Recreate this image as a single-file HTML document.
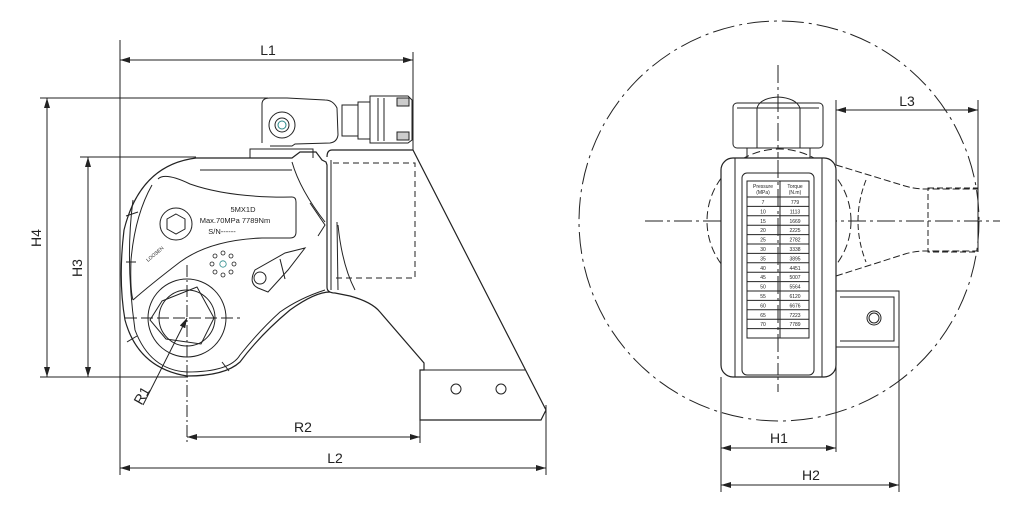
<!DOCTYPE html>
<html><head><meta charset="utf-8"><style>
html,body{margin:0;padding:0;background:#fff;width:1024px;height:512px;overflow:hidden}
svg{display:block}
text{font-family:"Liberation Sans",sans-serif;fill:#222}
</style></head><body>
<svg width="1024" height="512" viewBox="0 0 1024 512" xmlns="http://www.w3.org/2000/svg">
<defs>
<marker id="a" viewBox="0 0 10 6" refX="10" refY="3" markerWidth="10" markerHeight="6" orient="auto-start-reverse" markerUnits="userSpaceOnUse"><path d="M0,0 L10,3 L0,6 z" fill="#222"/></marker>
</defs>
<g stroke="#222" stroke-width="1" fill="none">
<!-- LEFT extension lines -->
<line x1="120" y1="40" x2="120" y2="475"/>
<line x1="413" y1="52" x2="413" y2="150"/>
<line x1="546" y1="405" x2="546" y2="475"/>
<line x1="420" y1="420" x2="420" y2="443"/>
<line x1="40" y1="98" x2="268" y2="98"/>
<line x1="80" y1="157" x2="196" y2="157"/>
<line x1="40" y1="377" x2="188" y2="377"/>
<!-- dims -->
<line x1="120" y1="60" x2="413" y2="60" marker-start="url(#a)" marker-end="url(#a)"/>
<line x1="120" y1="468" x2="546" y2="468" marker-start="url(#a)" marker-end="url(#a)"/>
<line x1="187" y1="437" x2="420" y2="437" marker-start="url(#a)" marker-end="url(#a)"/>
<line x1="47" y1="98" x2="47" y2="377" marker-start="url(#a)" marker-end="url(#a)"/>
<line x1="88" y1="157" x2="88" y2="377" marker-start="url(#a)" marker-end="url(#a)"/>
<!-- R1 leader -->
<line x1="143" y1="405" x2="187" y2="318" marker-end="url(#a)"/>
<!-- centerlines -->
<line x1="187" y1="265" x2="187" y2="445" stroke-dasharray="12,3,2,3"/>
<line x1="125" y1="318" x2="240" y2="318" stroke-dasharray="12,4"/>

<!-- main body -->
<path d="M196,158 L292,158 L300,152 L316,152 L322,160 L326,162 L327,165 L327,287 Q327,293 335,293 L350,296 Q372,302 380,312 L424,363 L424,370 L420,370 L420,420 L541,420 L546,410 L413,150 L332,150 Q327,150 327,157" stroke-width="1.2"/>
<path d="M196,158 Q140,165 124,230 Q118,280 125,320 Q138,368 187,376 Q225,376 240,362 Q260,335 290,310 Q315,292 330,292" stroke-width="1.2"/>
<path d="M292,162 Q300,190 325,222" />
<path d="M200,170 L292,170" />
<path d="M420,370 L525,370"/>
<!-- inner arc band -->
<path d="M158,179 Q165,172 190,184 Q230,198 292,197 Q296,197 296,202 L296,232 Q296,238 290,238 L262,238 Q210,240 180,262 Q150,285 133,300" />
<path d="M152,185 Q135,215 131,260 Q130,290 133,300"/>
<path d="M310,203 L325,225 L318,236" />
<path d="M133,200 Q125,260 135,330 Q150,370 187,372 Q230,372 240,355 Q260,330 280,312 Q300,298 325,290"/>
<line x1="126" y1="216" x2="138" y2="212"/>
<line x1="126" y1="262" x2="136" y2="262"/>
<line x1="127" y1="342" x2="137" y2="336"/>
<line x1="222" y1="362" x2="229" y2="371"/>
<!-- hex bolt -->
<circle cx="176" cy="224" r="16"/>
<polygon points="176,214 185,219 185,229 176,234 167,229 167,219"/>
<!-- head rings -->
<circle cx="187" cy="318" r="39"/>
<circle cx="187" cy="318" r="28"/>
<polygon points="162,301 197,287 214,318 201,344 166,339 150,320" />
<!-- dots -->
<g stroke-width="0.8">
<circle cx="223" cy="264" r="3.2" stroke="#2a8a8a"/>
<circle cx="223" cy="253" r="2"/><circle cx="231" cy="256" r="2"/><circle cx="234" cy="264" r="2"/><circle cx="231" cy="272" r="2"/>
<circle cx="223" cy="275" r="2"/><circle cx="215" cy="272" r="2"/><circle cx="212" cy="264" r="2"/><circle cx="215" cy="256" r="2"/>
</g>
<!-- lever -->
<path d="M255,270 Q248,283 258,288 L268,292 L288,270 L305,248 L285,253 Z"/>
<circle cx="260" cy="278" r="6"/>
<line x1="280" y1="259" x2="285" y2="279"/>
<!-- reaction arm box -->
<path d="M333,163 L415,163 L415,278 L333,278" stroke-dasharray="6,4"/>
<line x1="331" y1="160" x2="331" y2="290"/>
<line x1="337" y1="222" x2="338" y2="290"/>
<path d="M338,225 Q342,265 355,290"/>
<circle cx="456" cy="389" r="5"/><circle cx="501" cy="389" r="5"/>
<!-- swivel -->
<path d="M250,158 L250,149 L313,149 L313,158"/>
<path d="M262,143 L262,104 Q262,98 270,98 L287,98 L325,100 Q333,100 337,108 L338,135 Q337,142 330,143 L295,144 L292,146 L270,146"/>
<circle cx="282" cy="125" r="13"/><circle cx="282" cy="125" r="7"/><circle cx="282" cy="125" r="4" stroke="#2a8a8a"/>
<path d="M342,105 L358,105 L358,136 L342,136 Z"/>
<path d="M358,102 L370,102 L370,139 L358,139 Z"/>
<path d="M370,96 L408,96 L412,100 L412,140 L408,143 L370,143 Z"/>
<rect x="397" y="98" width="12" height="8" fill="#ccc"/>
<rect x="397" y="132" width="12" height="8" fill="#ccc"/>
<line x1="378" y1="98" x2="378" y2="141"/><line x1="384" y1="98" x2="384" y2="141"/>

<!-- RIGHT view -->
<circle cx="779" cy="221" r="200" stroke-dasharray="22,5,3,5"/>
<circle cx="779" cy="221" r="72" stroke-dasharray="8,4"/>
<line x1="645" y1="221" x2="1000" y2="221" stroke-dasharray="18,4,3,4"/>
<line x1="778" y1="65" x2="778" y2="392" stroke-dasharray="18,4,3,4"/>
<!-- nozzle dashed -->
<path d="M836,165 L905,186 Q915,189 925,189 L978,189" stroke-dasharray="7,3"/>
<path d="M836,276 L905,254 Q915,251 925,251 L978,251" stroke-dasharray="7,3"/>
<rect x="928" y="188" width="50" height="64" stroke-dasharray="6,3"/>
<path d="M866,180 Q850,221 866,262" stroke-dasharray="6,3"/>
<!-- body -->
<rect x="721" y="158" width="115" height="219" rx="12" stroke-width="1.2" fill="#fff"/>
<line x1="735" y1="158" x2="735" y2="377"/>
<line x1="822" y1="158" x2="822" y2="377"/>
<rect x="742" y="173" width="72" height="202" rx="5"/>
<line x1="778" y1="160" x2="778" y2="375" stroke-dasharray="18,4,3,4"/>
<!-- nut -->
<rect x="747" y="148" width="63" height="10"/>
<rect x="733" y="103" width="90" height="45" rx="4" fill="#fff"/>
<line x1="737" y1="108" x2="819" y2="108"/>
<path d="M757,148 L757,108 Q760,98 778,97 Q796,98 800,108 L800,148" />
<line x1="778" y1="65" x2="778" y2="150" stroke-dasharray="18,4,3,4"/>
<!-- square drive -->
<path d="M836,291 L899,291 L899,347 L836,347"/>
<path d="M840,297 L894,297 L894,341 L840,341"/>
<circle cx="874" cy="318" r="7"/><circle cx="874" cy="318" r="5"/>
<!-- table -->
<rect x="747" y="181" width="62" height="157"/>
<line x1="780" y1="181" x2="780" y2="338"/>
<line x1="747" y1="197" x2="809" y2="197"/>
<line x1="747" y1="206.4" x2="809" y2="206.4"/><line x1="747" y1="215.8" x2="809" y2="215.8"/>
<line x1="747" y1="225.2" x2="809" y2="225.2"/><line x1="747" y1="234.6" x2="809" y2="234.6"/>
<line x1="747" y1="244" x2="809" y2="244"/><line x1="747" y1="253.4" x2="809" y2="253.4"/>
<line x1="747" y1="262.8" x2="809" y2="262.8"/><line x1="747" y1="272.2" x2="809" y2="272.2"/>
<line x1="747" y1="281.6" x2="809" y2="281.6"/><line x1="747" y1="291" x2="809" y2="291"/>
<line x1="747" y1="300.4" x2="809" y2="300.4"/><line x1="747" y1="309.8" x2="809" y2="309.8"/>
<line x1="747" y1="319.2" x2="809" y2="319.2"/><line x1="747" y1="328.6" x2="809" y2="328.6"/>
<!-- right dims -->
<line x1="721" y1="377" x2="721" y2="492"/>
<line x1="836" y1="250" x2="836" y2="452"/>
<line x1="899" y1="347" x2="899" y2="492"/>
<line x1="836" y1="110" x2="978" y2="110" marker-start="url(#a)" marker-end="url(#a)"/>
<line x1="836" y1="100" x2="836" y2="165"/>
<line x1="978" y1="100" x2="978" y2="252"/>
<line x1="721" y1="448" x2="836" y2="448" marker-start="url(#a)" marker-end="url(#a)"/>
<line x1="721" y1="485" x2="899" y2="485" marker-start="url(#a)" marker-end="url(#a)"/>
</g>
<!-- labels -->
<g font-size="14">
<text x="268" y="55" text-anchor="middle">L1</text>
<text x="335" y="463" text-anchor="middle">L2</text>
<text x="303" y="432" text-anchor="middle">R2</text>
<text x="0" y="0" text-anchor="middle" transform="translate(41,238) rotate(-90)">H4</text>
<text x="0" y="0" text-anchor="middle" transform="translate(82,268) rotate(-90)">H3</text>
<text x="0" y="0" text-anchor="middle" transform="translate(146,398) rotate(-60)">R1</text>
<text x="907" y="106" text-anchor="middle">L3</text>
<text x="779" y="443" text-anchor="middle">H1</text>
<text x="811" y="480" text-anchor="middle">H2</text>
</g>
<g font-size="7.5" text-anchor="middle">
<text x="243" y="212">5MX1D</text>
<text x="235" y="223">Max.70MPa 7789Nm</text>
<text x="222" y="234">S/N------</text>
</g>
<text x="0" y="0" font-size="5" transform="translate(148,262) rotate(-40)">LOOSEN</text>
<g font-size="5" text-anchor="middle">
<text x="763" y="188">Pressure</text><text x="763" y="194">(MPa)</text>
<text x="795" y="188">Torque</text><text x="795" y="194">(N.m)</text>
<text x="763" y="204">7</text><text x="795" y="204">779</text>
<text x="763" y="213.4">10</text><text x="795" y="213.4">1113</text>
<text x="763" y="222.8">15</text><text x="795" y="222.8">1669</text>
<text x="763" y="232.2">20</text><text x="795" y="232.2">2225</text>
<text x="763" y="241.6">25</text><text x="795" y="241.6">2782</text>
<text x="763" y="251">30</text><text x="795" y="251">3338</text>
<text x="763" y="260.4">35</text><text x="795" y="260.4">3895</text>
<text x="763" y="269.8">40</text><text x="795" y="269.8">4451</text>
<text x="763" y="279.2">45</text><text x="795" y="279.2">5007</text>
<text x="763" y="288.6">50</text><text x="795" y="288.6">5564</text>
<text x="763" y="298">55</text><text x="795" y="298">6120</text>
<text x="763" y="307.4">60</text><text x="795" y="307.4">6676</text>
<text x="763" y="316.8">65</text><text x="795" y="316.8">7223</text>
<text x="763" y="326.2">70</text><text x="795" y="326.2">7789</text>
</g>
</svg>
</body></html>
